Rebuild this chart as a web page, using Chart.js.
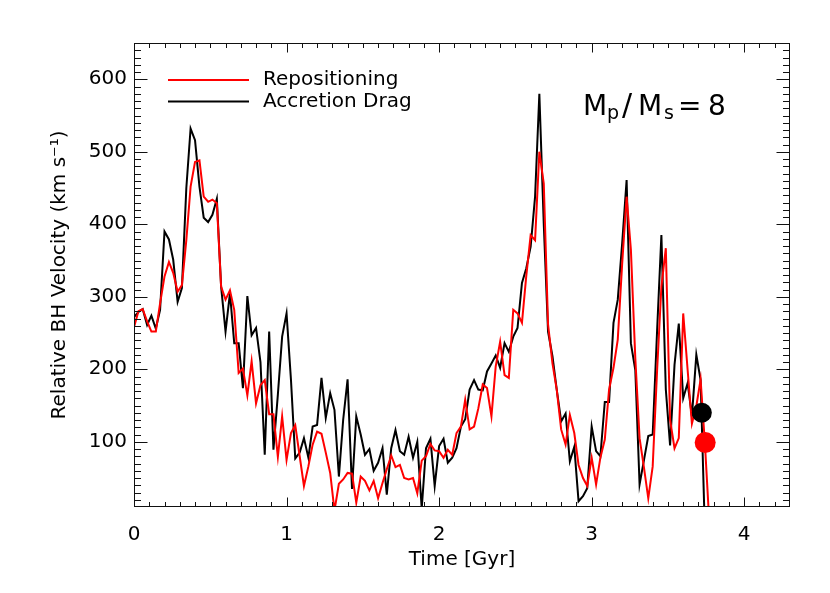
<!DOCTYPE html>
<html>
<head>
<meta charset="utf-8">
<script src="https://cdn.jsdelivr.net/npm/chart.js@4.4.1/dist/chart.umd.min.js"></script>
<style>
  html, body { margin: 0; padding: 0; background: #fff; }
</style>
</head>
<body>
<canvas id="chart" width="830" height="593"></canvas>
<script>
// Time samples (Gyr)
const times = [
  0.000, 0.029, 0.057, 0.086, 0.114, 0.143, 0.171, 0.200, 0.229, 0.257,
  0.286, 0.314, 0.343, 0.371, 0.400, 0.429, 0.457, 0.486, 0.514, 0.543,
  0.571, 0.600, 0.629, 0.657, 0.686, 0.714, 0.743, 0.771, 0.800, 0.829,
  0.857, 0.886, 0.914, 0.943, 0.971, 1.000, 1.029, 1.057, 1.086, 1.114,
  1.143, 1.171, 1.200, 1.229, 1.257, 1.286, 1.314, 1.343, 1.371, 1.400,
  1.429, 1.457, 1.486, 1.514, 1.543, 1.571, 1.600, 1.629, 1.657, 1.686,
  1.714, 1.743, 1.771, 1.800, 1.829, 1.857, 1.886, 1.914, 1.943, 1.971,
  2.000, 2.029, 2.057, 2.086, 2.114, 2.143, 2.171, 2.200, 2.229, 2.257,
  2.286, 2.314, 2.343, 2.371, 2.400, 2.429, 2.457, 2.486, 2.514, 2.543,
  2.571, 2.600, 2.629, 2.657, 2.686, 2.714, 2.743, 2.771, 2.800, 2.829,
  2.857, 2.886, 2.914, 2.943, 2.971, 3.000, 3.029, 3.057, 3.086, 3.114,
  3.143, 3.171, 3.200, 3.229, 3.257, 3.286, 3.314, 3.343, 3.371, 3.400,
  3.429, 3.457, 3.486, 3.514, 3.543, 3.571, 3.600, 3.629, 3.657, 3.686,
  3.714, 3.743, 3.771
];

// Relative BH velocity (km/s)
const repositioning = [
  258, 280, 283, 266, 252, 252, 291, 328, 348, 333,
  307, 316, 378, 452, 486, 488, 438, 431, 434, 429,
  314, 296, 309, 282, 195, 201, 164, 211, 153, 178,
  185, 138, 138, 79, 135, 75, 112, 123, 80, 39,
  66, 96, 114, 111, 85, 57, 5, 42, 48, 57,
  56, 16, 52, 46, 33, 46, 22, 43, 62, 81,
  65, 68, 50, 48, 50, 29, 74, 80, 97, 88,
  87, 78, 89, 82, 112, 121, 158, 117, 121, 146,
  179, 174, 135, 204, 238, 192, 188, 282, 277, 264,
  328, 385, 378, 500, 456, 262, 208, 172, 117, 96,
  137, 112, 68, 50, 39, 78, 41, 78, 103, 172,
  202, 241, 346, 438, 365, 215, 105, 64, 22, 66,
  199, 314, 367, 130, 91, 105, 277, 199, 125, 149,
  186, 95, -11
];

const accretionDrag = [
  272, 279, 283, 261, 274, 256, 282, 390, 379, 351,
  293, 312, 450, 532, 516, 452, 409, 403, 413, 435,
  314, 252, 305, 236, 236, 174, 301, 247, 257, 210,
  82, 252, 89, 165, 245, 277, 185, 77, 85, 105,
  78, 121, 123, 188, 133, 167, 144, 52, 130, 186,
  35, 135, 110, 82, 90, 60, 71, 91, 27, 91,
  116, 87, 82, 107, 78, 100, 8, 91, 104, 39,
  94, 104, 71, 78, 91, 121, 131, 172, 185, 172,
  171, 197, 208, 219, 202, 236, 224, 245, 257, 319,
  339, 369, 438, 580, 400, 252, 218, 172, 128, 139,
  73, 93, 18, 25, 36, 121, 87, 80, 155, 155,
  264, 296, 374, 461, 236, 199, 41, 75, 108, 110,
  254, 385, 172, 95, 206, 263, 160, 181, 135, 220,
  185, -31
];

// end-point markers
const markerTimes = [3.744, 3.722];   // repositioning, accretion drag
const markerValues = [99, 140];

const xTicks = [0, 1, 2, 3, 4];
const yTicks = [100, 200, 300, 400, 500, 600];

const FONT = "'DejaVu Sans', sans-serif";
Chart.defaults.font.family = FONT;
Chart.defaults.color = '#000';

const toPoints = (vals) => vals.map((v, i) => ({ x: times[i], y: v }));

// IDL-style box: frame, inward ticks on all four sides, legend and label
const boxPlugin = {
  id: 'idlBox',
  afterDraw(chart) {
    const { ctx, chartArea: a, scales: { x, y } } = chart;
    const L = Math.round(a.left) + 0.5, R = Math.round(a.right) - 0.5;
    const T = Math.round(a.top) + 0.5, B = Math.round(a.bottom) - 0.5;
    ctx.save();
    ctx.strokeStyle = '#111';
    ctx.lineWidth = 1;
    ctx.strokeRect(L, T, R - L, B - T);

    ctx.beginPath();
    for (let k = 1; k < 43; k++) {
      const px = Math.round(x.getPixelForValue(k / 10)) + 0.5;
      const len = k % 10 === 0 ? 9 : 4.5;
      ctx.moveTo(px, B); ctx.lineTo(px, B - len);
      ctx.moveTo(px, T); ctx.lineTo(px, T + len);
    }
    for (let k = 2; k < 65; k++) {
      const py = Math.round(y.getPixelForValue(k * 10)) + 0.5;
      const len = k % 10 === 0 ? 13 : 6.5;
      ctx.moveTo(L, py); ctx.lineTo(L + len, py);
      ctx.moveTo(R, py); ctx.lineTo(R - len, py);
    }
    ctx.stroke();

    // legend
    ctx.lineWidth = 2;
    ctx.strokeStyle = '#ff0000';
    ctx.beginPath(); ctx.moveTo(168, 80); ctx.lineTo(249, 80); ctx.stroke();
    ctx.strokeStyle = '#000';
    ctx.beginPath(); ctx.moveTo(168, 101.5); ctx.lineTo(249, 101.5); ctx.stroke();
    ctx.fillStyle = '#000';
    ctx.textBaseline = 'alphabetic';
    ctx.textAlign = 'left';
    ctx.font = '20px ' + FONT;
    ctx.fillText('Repositioning', 263, 85);
    ctx.fillText('Accretion Drag', 263, 106.5);

    // mass ratio label: [text, font size, x, baseline shift]
    const parts = [
      ['M', 28, 583, 0], ['p', 19, 607, 4], ['/', 30, 622, 0],
      ['M', 28, 638, 0], ['s', 19, 664, 4], ['=', 28, 678, 0], ['8', 28, 708, 0]
    ];
    parts.forEach(([txt, size, px, dy]) => {
      ctx.font = size + 'px ' + FONT;
      ctx.fillText(txt, px, 115 + dy);
    });
    ctx.restore();
  }
};

new Chart(document.getElementById('chart'), {
  type: 'line',
  data: {
    datasets: [
      {
        label: 'Repositioning end',
        data: [{ x: markerTimes[0], y: markerValues[0] }],
        showLine: false,
        pointRadius: 10.5,
        pointBackgroundColor: '#ff0000',
        pointBorderWidth: 0
      },
      {
        label: 'Accretion Drag end',
        data: [{ x: markerTimes[1], y: markerValues[1] }],
        showLine: false,
        pointRadius: 10,
        pointBackgroundColor: '#000',
        pointBorderWidth: 0
      },
      {
        label: 'Repositioning',
        data: toPoints(repositioning),
        borderColor: '#ff0000',
        borderWidth: 2,
        pointRadius: 0,
        tension: 0
      },
      {
        label: 'Accretion Drag',
        data: toPoints(accretionDrag),
        borderColor: '#000',
        borderWidth: 2,
        pointRadius: 0,
        tension: 0
      }
    ]
  },
  options: {
    responsive: false,
    animation: false,
    devicePixelRatio: 1,
    layout: { padding: { top: 43, right: 40, left: 0, bottom: 0 } },
    plugins: {
      legend: { display: false },
      tooltip: { enabled: false }
    },
    scales: {
      x: {
        type: 'linear',
        min: 0,
        max: 4.3,
        afterFit(s) { s.height = 86; },
        afterBuildTicks(s) { s.ticks = xTicks.map(v => ({ value: v })); },
        grid: { display: false, drawTicks: false },
        border: { display: false },
        ticks: { font: { size: 20 }, padding: 16, maxRotation: 0, autoSkip: false },
        title: {
          display: true,
          text: 'Time [Gyr]',
          font: { size: 20 },
          padding: { top: 0, bottom: 21 }
        }
      },
      y: {
        type: 'linear',
        min: 10,
        max: 650,
        afterFit(s) { s.width = 134; },
        afterBuildTicks(s) { s.ticks = yTicks.map(v => ({ value: v })); },
        grid: { display: false, drawTicks: false },
        border: { display: false },
        ticks: { font: { size: 20 }, padding: 7 },
        title: {
          display: true,
          text: 'Relative BH Velocity (km s\u207B\u00B9)',
          font: { size: 20 },
          padding: { top: 48, bottom: 0 }
        }
      }
    }
  },
  plugins: [boxPlugin]
});
</script>
</body>
</html>
